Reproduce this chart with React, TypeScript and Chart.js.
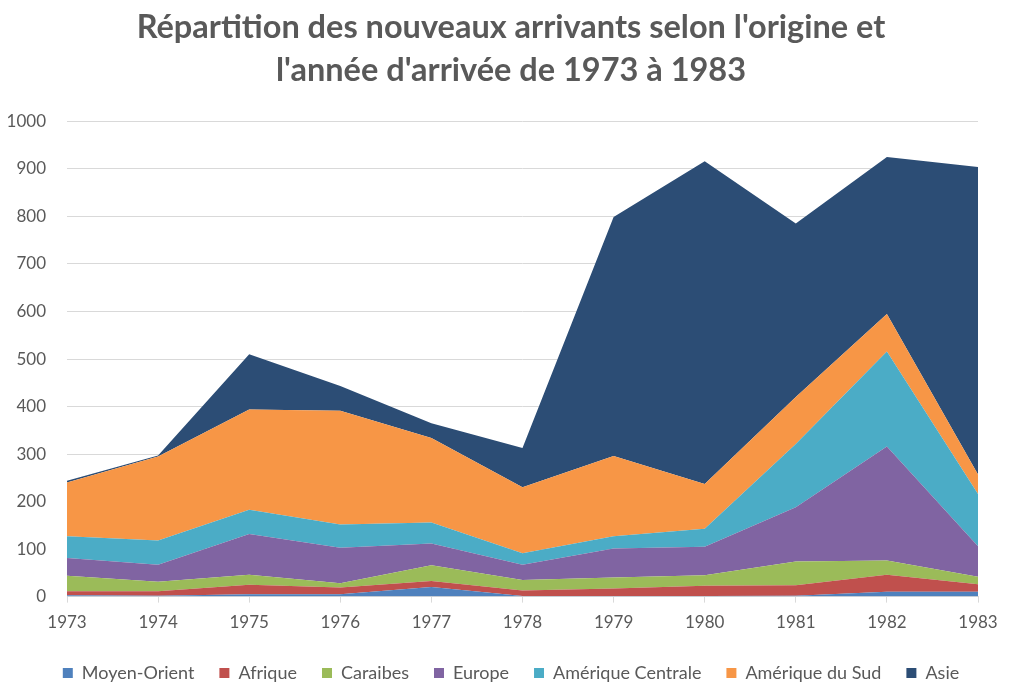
import React, { useEffect, useRef } from "react";
import { Chart, registerables } from "chart.js";

Chart.register(...registerables);

const years = ["1973", "1974", "1975", "1976", "1977", "1978", "1979", "1980", "1981", "1982", "1983"];
const moyenOrient = [3, 2, 5, 5, 20, 1, 1, 1, 2, 10, 10];
const afrique = [8, 9, 20, 14, 13, 12, 16, 22, 22, 36, 16];
const caraibes = [33, 20, 21, 9, 33, 22, 23, 22, 50, 30, 16];
const europe = [37, 36, 86, 75, 46, 32, 61, 60, 114, 240, 64];
const ameriqueCentrale = [46, 51, 51, 49, 44, 24, 26, 38, 133, 200, 110];
const ameriqueSud = [113, 177, 211, 239, 178, 139, 169, 94, 99, 79, 41];
const asie = [4, 2, 116, 52, 31, 83, 503, 679, 365, 330, 647];

const seriesNames = ["Moyen-Orient", "Afrique", "Caraibes", "Europe", "Amérique Centrale", "Amérique du Sud", "Asie"];
const seriesColors = ["#4F81BD", "#C0504D", "#9BBB59", "#8064A2", "#4BACC6", "#F79646", "#2C4D75"];
const seriesValues = [moyenOrient, afrique, caraibes, europe, ameriqueCentrale, ameriqueSud, asie];

const titleLines = ["Répartition des nouveaux arrivants selon l'origine et", "l'année d'arrivée de 1973 à 1983"];

export default function App() {
  const ref = useRef<HTMLCanvasElement | null>(null);
  useEffect(() => {
    document.body.style.margin = "0";
    if (!ref.current) return;
    const font = "Lato, 'Open Sans', sans-serif";
    const chart = new Chart(ref.current, {
      type: "line",
      data: {
        labels: years,
        datasets: seriesNames.map((name, i) => ({
          label: name,
          data: seriesValues[i],
          backgroundColor: seriesColors[i],
          borderColor: seriesColors[i],
          borderWidth: 0,
          pointRadius: 0,
          fill: i === 0 ? "origin" : "-1",
          tension: 0,
        })),
      },
      options: {
        responsive: false,
        animation: false,
        layout: { padding: { left: 0, right: 0, top: 2, bottom: 8 } },
        plugins: {
          title: {
            display: true,
            text: titleLines,
            color: "#595959",
            font: { family: font, size: 32.5, weight: "bold", lineHeight: 1.33 },
            padding: { top: 4, bottom: 29 },
          },
          legend: {
            position: "bottom",
            labels: {
              color: "#595959",
              font: { family: font, size: 18 },
              boxWidth: 10,
              boxHeight: 10,
              padding: 25,
            },
          },
          tooltip: { enabled: false },
        },
        scales: {
          x: {
            type: "category",
            offset: false,
            grid: { display: true, drawOnChartArea: false, drawTicks: true, tickLength: 6, color: "#D9D9D9" },
            border: { color: "#D9D9D9" },
            ticks: { color: "#595959", font: { family: font, size: 17 }, padding: 10, maxRotation: 0 },
            afterFit: (scale: any) => {
              scale.height -= 4;
            },
          },
          y: {
            stacked: true,
            min: 0,
            max: 1000,
            ticks: {
              stepSize: 100,
              color: "#595959",
              font: { family: font, size: 17 },
              padding: 21,
              callback: (v: any) => String(v),
            },
            grid: { color: "#D9D9D9", drawTicks: false },
            border: { display: false },
            afterFit: (scale: any) => {
              scale.width = 67;
            },
          },
          yRight: {
            position: "right",
            display: true,
            min: 0,
            max: 1000,
            grid: { display: false, drawTicks: false },
            border: { display: false },
            ticks: { display: false },
            afterFit: (scale: any) => {
              scale.width = 44;
            },
          },
        },
      },
    });
    return () => chart.destroy();
  }, []);
  return <canvas ref={ref} width={1022} height={700} style={{ display: "block" }} />;
}
